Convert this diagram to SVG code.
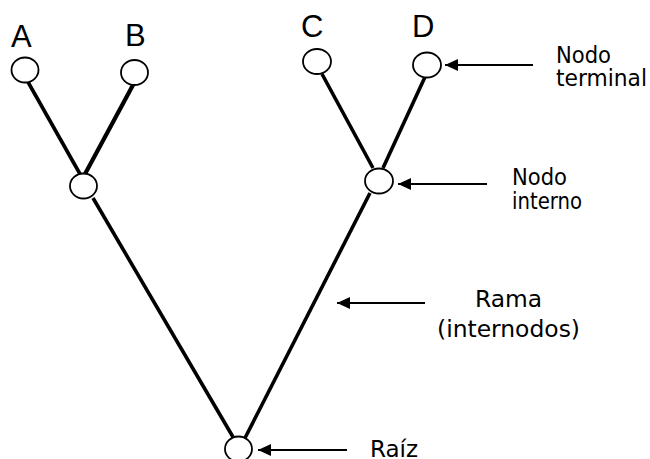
<svg xmlns="http://www.w3.org/2000/svg" width="650" height="459" viewBox="0 0 650 459">
<style>
.br{stroke:#000;stroke-width:3.6;stroke-linecap:butt;fill:none}
.nd{fill:#fff;stroke:#000;stroke-width:1.8}
.ar{stroke:#000;stroke-width:2;fill:none}
.lt{font-family:"Liberation Sans",Arial,sans-serif;font-size:31px;fill:#000}
.lb{font-family:"DejaVu Sans Condensed","DejaVu Sans",Tahoma,sans-serif;font-stretch:condensed;font-size:23px;fill:#000}
</style>
<defs>
<marker id="ah" markerUnits="userSpaceOnUse" markerWidth="14" markerHeight="12" refX="13" refY="6" orient="auto">
<path d="M0,0 L13,6 L0,12 Z" fill="#000"/>
</marker>
</defs>
<rect width="650" height="459" fill="#fff"/>
<g id="connectors">
<line class="br" x1="28" y1="82" x2="80" y2="174"/>
<line class="br" x1="133" y1="85" x2="85" y2="174" style="stroke-width:4.2"/>
<line class="br" x1="93" y1="198" x2="233" y2="437"/>
<line class="br" x1="370" y1="193" x2="245" y2="438"/>
<line class="br" x1="322" y1="74" x2="373" y2="168"/>
<line class="br" x1="425" y1="77" x2="383" y2="168"/>
<line class="ar" x1="533" y1="65" x2="445" y2="65" marker-end="url(#ah)"/>
<line class="ar" x1="487" y1="184" x2="398" y2="184" marker-end="url(#ah)"/>
<line class="ar" x1="425" y1="303" x2="337" y2="303" marker-end="url(#ah)"/>
<line class="ar" x1="347" y1="450" x2="258" y2="450" marker-end="url(#ah)"/>
</g>
<g id="node-A"><ellipse class="nd" cx="25" cy="70" rx="13.5" ry="12.5"/><text class="lt" x="11" y="47">A</text></g>
<g id="node-B"><ellipse class="nd" cx="134.5" cy="72.5" rx="13.5" ry="12.5"/><text class="lt" x="125" y="46">B</text></g>
<g id="node-AB"><ellipse class="nd" cx="83.5" cy="186" rx="13.5" ry="12.5"/></g>
<g id="node-C"><ellipse class="nd" cx="317" cy="61.5" rx="14" ry="12.5"/><text class="lt" x="301" y="37">C</text></g>
<g id="node-D"><ellipse class="nd" cx="427" cy="65" rx="14" ry="12.5"/><text class="lt" x="412" y="37">D</text></g>
<g id="node-CD"><ellipse class="nd" cx="379" cy="181" rx="14" ry="12.5"/></g>
<g id="node-root"><ellipse class="nd" cx="238.5" cy="449" rx="13.5" ry="12.5"/></g>
<g id="label-terminal"><text class="lb" x="556" y="63" textLength="55" lengthAdjust="spacingAndGlyphs">Nodo</text><text class="lb" x="556" y="86" textLength="91" lengthAdjust="spacingAndGlyphs">terminal</text></g>
<g id="label-interno"><text class="lb" x="512" y="185" textLength="55" lengthAdjust="spacingAndGlyphs">Nodo</text><text class="lb" x="512" y="209" textLength="70" lengthAdjust="spacingAndGlyphs">interno</text></g>
<g id="label-rama"><text class="lb" x="475" y="307" textLength="67" lengthAdjust="spacingAndGlyphs">Rama</text><text class="lb" x="437" y="337" textLength="143" lengthAdjust="spacingAndGlyphs">(internodos)</text></g>
<g id="label-raiz"><text class="lb" x="370" y="457" textLength="48" lengthAdjust="spacingAndGlyphs">Raíz</text></g>
</svg>
